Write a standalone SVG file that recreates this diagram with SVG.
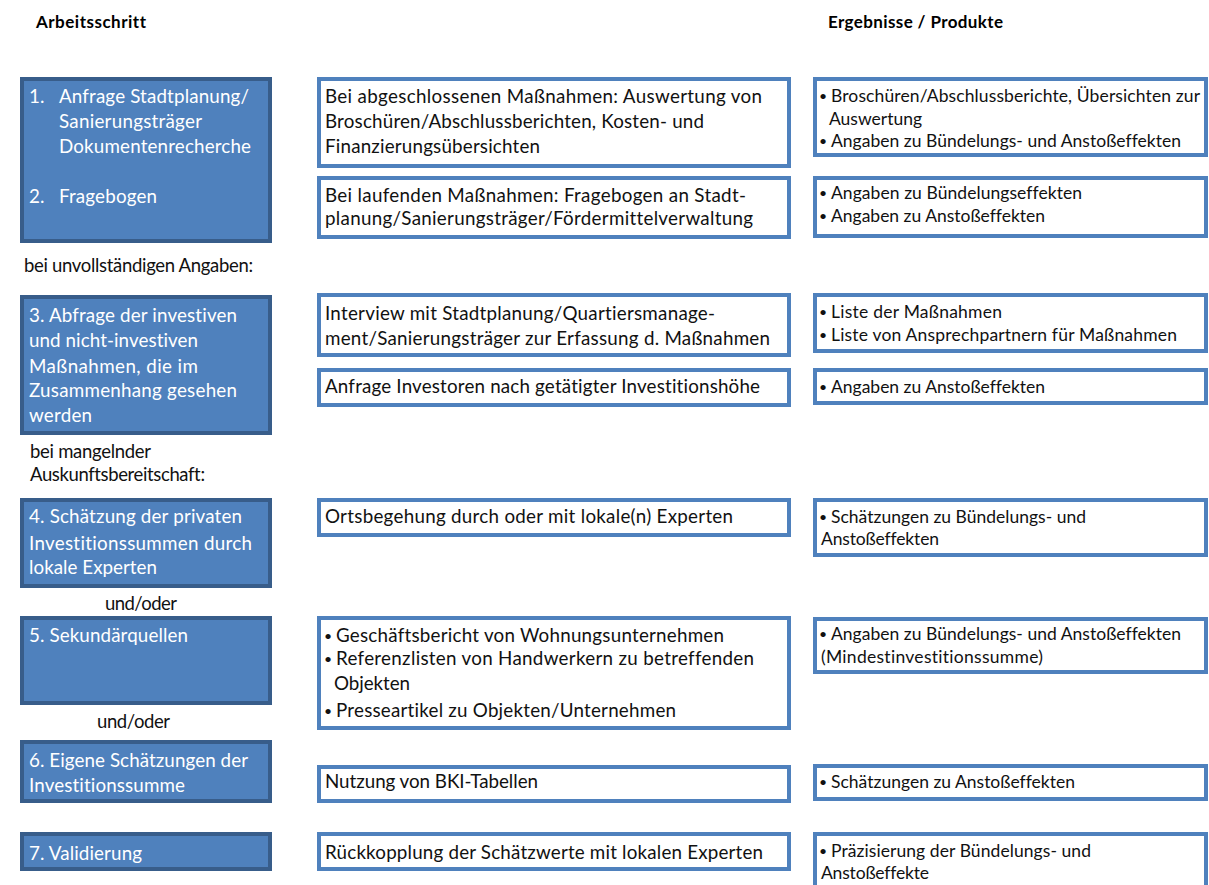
<svg xmlns="http://www.w3.org/2000/svg" width="1209" height="885" viewBox="0 0 1209 885">
<style>
.lbox{fill:#4F81BD;stroke:#385D8A;stroke-width:4}
.wbox{fill:#FFFFFF;stroke:#4F81BD;stroke-width:4}
text{font-family:Lato,"Liberation Sans",sans-serif;font-variant-ligatures:none;font-feature-settings:"liga" 0,"clig" 0}
.h{font-size:17px;font-weight:bold;fill:#000}
.lt{font-size:18.8px;fill:#FFFFFF}
.mt{font-size:18.8px;fill:#111}
.rt{font-size:17.5px;fill:#111}
.nt{font-size:18.5px;fill:#111}
.b{font-size:14px;fill:#111}
</style>
<rect x="0" y="0" width="1209" height="885" fill="#FFFFFF"/>
<g id="headers">
<text class="h" x="36" y="28" textLength="110">Arbeitsschritt</text>
<text class="h" x="828" y="28" textLength="175">Ergebnisse / Produkte</text>
</g>
<g id="notes">
<text class="nt" x="24" y="272" textLength="229">bei unvollständigen Angaben:</text>
<text class="nt" x="30" y="458" textLength="121">bei mangelnder</text>
<text class="nt" x="30" y="481" textLength="175">Auskunftsbereitschaft:</text>
<text class="nt" x="105" y="610" textLength="72">und/oder</text>
<text class="nt" x="97" y="728" textLength="73">und/oder</text>
</g>
<g id="connectors"></g>

<g id="step1-2">
<rect class="lbox" x="22" y="79" width="248" height="162"/>
<text class="lt" x="29" y="103">1.</text>
<text class="lt" x="59" y="103" textLength="190">Anfrage Stadtplanung/</text>
<text class="lt" x="59" y="128" textLength="143">Sanierungsträger</text>
<text class="lt" x="59" y="153" textLength="192">Dokumentenrecherche</text>
<text class="lt" x="29" y="203">2.</text>
<text class="lt" x="59" y="203" textLength="98">Fragebogen</text>
</g>
<g id="method1">
<rect class="wbox" x="319" y="79" width="470" height="87"/>
<text class="mt" x="325" y="103" textLength="437">Bei abgeschlossenen Maßnahmen: Auswertung von</text>
<text class="mt" x="325" y="128" textLength="379">Broschüren/Abschlussberichten, Kosten- und</text>
<text class="mt" x="325" y="153" textLength="215">Finanzierungsübersichten</text>
</g>
<g id="method2">
<rect class="wbox" x="319" y="178" width="470" height="59"/>
<text class="mt" x="325" y="202" textLength="421">Bei laufenden Maßnahmen: Fragebogen an Stadt-</text>
<text class="mt" x="325" y="225" textLength="428">planung/Sanierungsträger/Fördermittelverwaltung</text>
</g>
<g id="result1">
<rect class="wbox" x="815" y="79" width="391" height="76"/>
<text class="b" x="819" y="101">•</text>
<text class="rt" x="831" y="102" textLength="369">Broschüren/Abschlussberichte, Übersichten zur</text>
<text class="rt" x="829" y="125" textLength="93">Auswertung</text>
<text class="b" x="819" y="146">•</text>
<text class="rt" x="831" y="147" textLength="350">Angaben zu Bündelungs- und Anstoßeffekten</text>
</g>
<g id="result2">
<rect class="wbox" x="815" y="178" width="391" height="58"/>
<text class="b" x="819" y="198">•</text>
<text class="rt" x="831" y="199" textLength="251">Angaben zu Bündelungseffekten</text>
<text class="b" x="819" y="221">•</text>
<text class="rt" x="831" y="222" textLength="214">Angaben zu Anstoßeffekten</text>
</g>

<g id="step3">
<rect class="lbox" x="22" y="297" width="248" height="136"/>
<text class="lt" x="29" y="322" textLength="208">3. Abfrage der investiven</text>
<text class="lt" x="29" y="347" textLength="169">und nicht-investiven</text>
<text class="lt" x="29" y="373" textLength="169">Maßnahmen, die im</text>
<text class="lt" x="29" y="397" textLength="208">Zusammenhang gesehen</text>
<text class="lt" x="29" y="422" textLength="63">werden</text>
</g>
<g id="method3">
<rect class="wbox" x="319" y="295" width="470" height="60"/>
<text class="mt" x="325" y="320" textLength="390">Interview mit Stadtplanung/Quartiersmanage-</text>
<text class="mt" x="325" y="345" textLength="445">ment/Sanierungsträger zur Erfassung d. Maßnahmen</text>
</g>
<g id="method4">
<rect class="wbox" x="319" y="370" width="470" height="35"/>
<text class="mt" x="325" y="393" textLength="435">Anfrage Investoren nach getätigter Investitionshöhe</text>
</g>
<g id="result3">
<rect class="wbox" x="815" y="295" width="391" height="56"/>
<text class="b" x="819" y="317">•</text>
<text class="rt" x="831" y="318" textLength="171">Liste der Maßnahmen</text>
<text class="b" x="819" y="340">•</text>
<text class="rt" x="831" y="341" textLength="346">Liste von Ansprechpartnern für Maßnahmen</text>
</g>
<g id="result4">
<rect class="wbox" x="815" y="370" width="391" height="33"/>
<text class="b" x="819" y="392">•</text>
<text class="rt" x="831" y="393" textLength="214">Angaben zu Anstoßeffekten</text>
</g>

<g id="step4">
<rect class="lbox" x="22" y="500" width="248" height="86"/>
<text class="lt" x="29" y="523" textLength="213">4. Schätzung der privaten</text>
<text class="lt" x="29" y="550" textLength="223">Investitionssummen durch</text>
<text class="lt" x="29" y="574" textLength="128">lokale Experten</text>
</g>
<g id="method5">
<rect class="wbox" x="319" y="500" width="470" height="35"/>
<text class="mt" x="325" y="523" textLength="408">Ortsbegehung durch oder mit lokale(n) Experten</text>
</g>
<g id="result5">
<rect class="wbox" x="815" y="500" width="391" height="55"/>
<text class="b" x="819" y="522">•</text>
<text class="rt" x="831" y="523" textLength="255">Schätzungen zu Bündelungs- und</text>
<text class="rt" x="821" y="545" textLength="118">Anstoßeffekten</text>
</g>

<g id="step5">
<rect class="lbox" x="22" y="618" width="248" height="85"/>
<text class="lt" x="29" y="642" textLength="159">5. Sekundärquellen</text>
</g>
<g id="method6">
<rect class="wbox" x="319" y="618" width="470" height="110"/>
<text class="b" x="324" y="641">•</text>
<text class="mt" x="336" y="642" textLength="388">Geschäftsbericht von Wohnungsunternehmen</text>
<text class="b" x="324" y="664">•</text>
<text class="mt" x="336" y="665" textLength="418">Referenzlisten von  Handwerkern zu betreffenden</text>
<text class="mt" x="334" y="690" textLength="76">Objekten</text>
<text class="b" x="324" y="716">•</text>
<text class="mt" x="336" y="717" textLength="340">Presseartikel zu Objekten/Unternehmen</text>
</g>
<g id="result6">
<rect class="wbox" x="815" y="619" width="391" height="53"/>
<text class="b" x="819" y="639">•</text>
<text class="rt" x="831" y="640" textLength="350">Angaben zu Bündelungs- und Anstoßeffekten</text>
<text class="rt" x="821" y="663" textLength="222">(Mindestinvestitionssumme)</text>
</g>

<g id="step6">
<rect class="lbox" x="22" y="742" width="248" height="59"/>
<text class="lt" x="29" y="767" textLength="219">6. Eigene Schätzungen der</text>
<text class="lt" x="29" y="792" textLength="156">Investitionssumme</text>
</g>
<g id="method7">
<rect class="wbox" x="319" y="767" width="470" height="34"/>
<text class="mt" x="325" y="788" textLength="213">Nutzung von BKI-Tabellen</text>
</g>
<g id="result7">
<rect class="wbox" x="815" y="766" width="391" height="33"/>
<text class="b" x="819" y="787">•</text>
<text class="rt" x="831" y="788" textLength="244">Schätzungen zu Anstoßeffekten</text>
</g>

<g id="step7">
<rect class="lbox" x="22" y="834" width="248" height="35"/>
<text class="lt" x="29" y="860" textLength="113">7. Validierung</text>
</g>
<g id="method8">
<rect class="wbox" x="319" y="834" width="470" height="35"/>
<text class="mt" x="325" y="859" textLength="438">Rückkopplung der Schätzwerte mit lokalen Experten</text>
</g>
<g id="result8">
<rect class="wbox" x="815" y="834" width="391" height="70"/>
<text class="b" x="819" y="856">•</text>
<text class="rt" x="831" y="857" textLength="260">Präzisierung der Bündelungs- und</text>
<text class="rt" x="821" y="879" textLength="108">Anstoßeffekte</text>
</g>
</svg>
